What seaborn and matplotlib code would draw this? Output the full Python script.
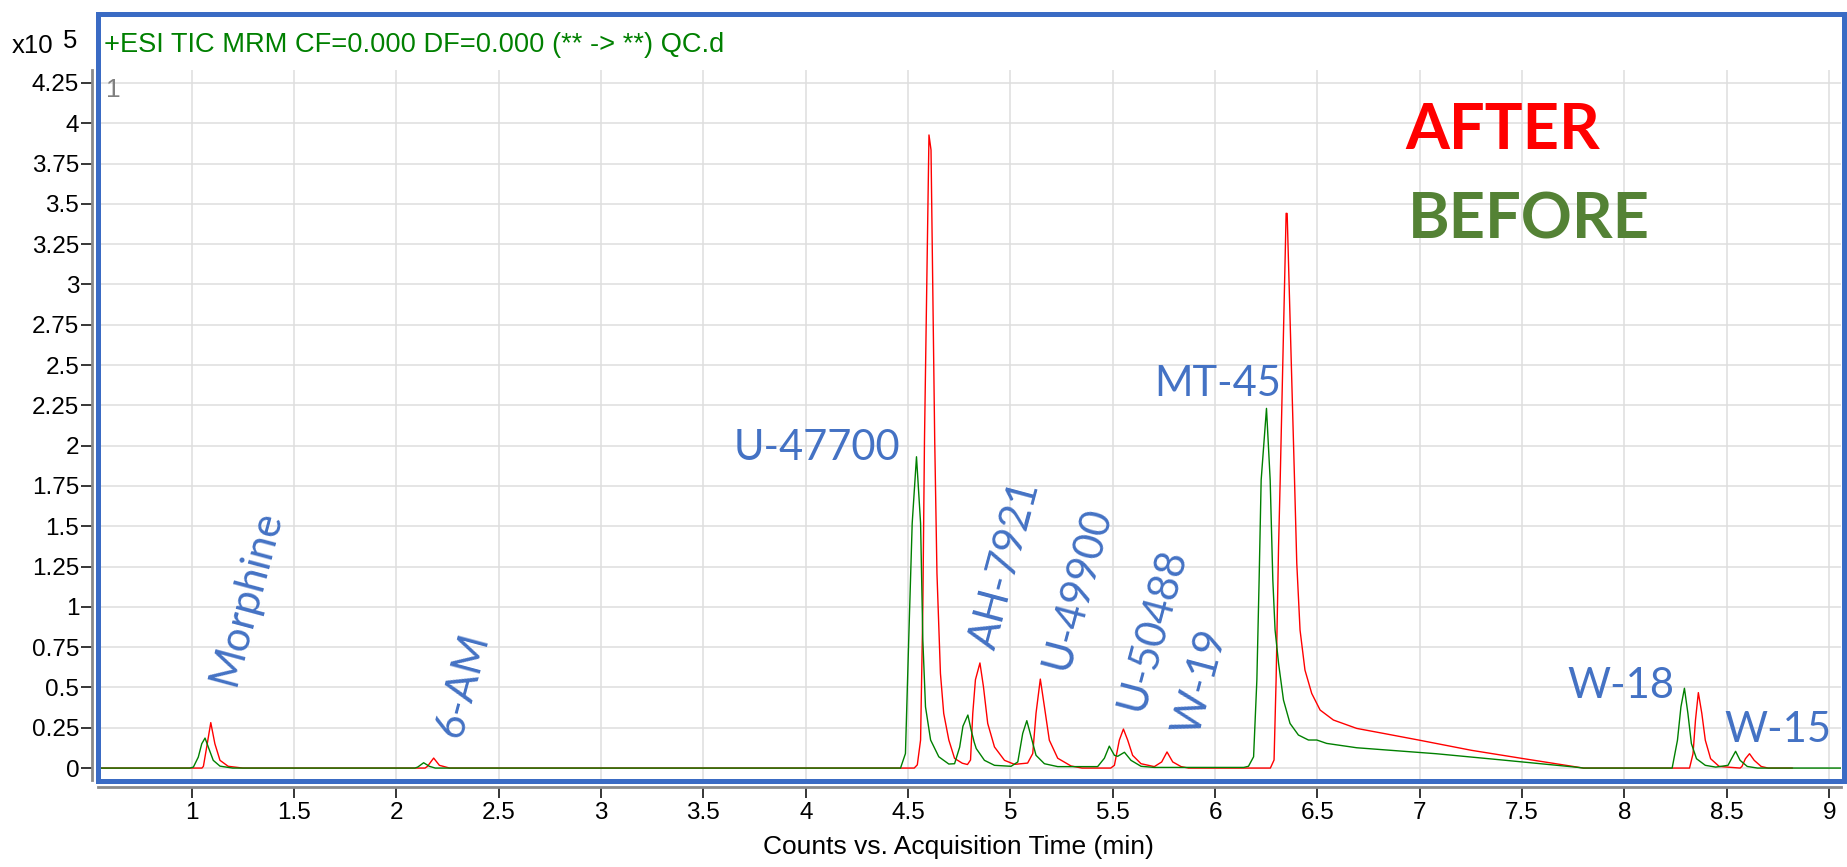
import matplotlib
matplotlib.use("Agg")
import matplotlib.pyplot as plt
from matplotlib.patches import Rectangle
import seaborn as sns

# ---------------- data (counts x10^5 vs. acquisition time, min) ----------------
after_time = [0.54, 1.05, 1.057, 1.073, 1.093, 1.113, 1.138, 1.178, 1.25,
              2.14, 2.152, 2.182, 2.21, 2.26,
              4.53, 4.545, 4.561, 4.572, 4.580, 4.602, 4.612, 4.630, 4.641, 4.658,
              4.674, 4.699, 4.727, 4.765, 4.790, 4.805, 4.816, 4.829, 4.851, 4.868,
              4.889, 4.922, 4.971, 5.020, 5.084, 5.109, 5.125, 5.146, 5.166, 5.190,
              5.231, 5.296, 5.350, 5.490, 5.508, 5.532, 5.552, 5.573, 5.597, 5.638,
              5.703, 5.739, 5.765, 5.793, 5.834, 5.870,
              6.270, 6.288, 6.298, 6.310, 6.318, 6.347, 6.352, 6.388, 6.399, 6.415,
              6.439, 6.472, 6.513, 6.578, 6.692, 6.827, 6.998, 7.253, 7.509, 7.800,
              8.318, 8.335, 8.347, 8.361, 8.378, 8.395, 8.421, 8.463, 8.565,
              8.574, 8.591, 8.611, 8.634, 8.668, 8.702, 8.821]
after_counts = [0, 0, 0.011, 0.130, 0.282, 0.151, 0.048, 0.011, 0,
                0, 0.011, 0.062, 0.017, 0,
                0, 0.020, 0.174, 1.000, 2.030, 3.927, 3.834, 2.035, 1.208, 0.587,
                0.339, 0.174, 0.060, 0.030, 0.022, 0.050, 0.340, 0.548, 0.652, 0.506,
                0.277, 0.131, 0.048, 0.023, 0.031, 0.090, 0.340, 0.552, 0.381, 0.173,
                0.061, 0.013, 0, 0, 0.017, 0.173, 0.242, 0.173, 0.079, 0.027,
                0.009, 0.038, 0.100, 0.038, 0.009, 0,
                0, 0.050, 0.546, 1.373, 1.787, 3.441, 3.440, 1.787, 1.270, 0.856,
                0.608, 0.463, 0.360, 0.298, 0.246, 0.214, 0.173, 0.110, 0.058, 0,
                0, 0.089, 0.297, 0.468, 0.339, 0.173, 0.058, 0.010, 0,
                0.010, 0.058, 0.089, 0.048, 0.010, 0, 0]

before_time = [0.54, 0.99, 1.008, 1.032, 1.049, 1.065, 1.081, 1.105, 1.138, 1.20,
               2.09, 2.104, 2.133, 2.161, 2.19,
               4.463, 4.487, 4.503, 4.520, 4.541, 4.561, 4.572, 4.585, 4.610, 4.650,
               4.699, 4.727, 4.752, 4.768, 4.792, 4.808, 4.823, 4.833, 4.873, 4.922,
               5.003, 5.036, 5.060, 5.080, 5.101, 5.125, 5.166, 5.231, 5.426, 5.459,
               5.483, 5.508, 5.524, 5.557, 5.589, 5.638, 5.703,
               6.140, 6.163, 6.188, 6.204, 6.215, 6.225, 6.251, 6.269, 6.282, 6.293,
               6.310, 6.334, 6.366, 6.407, 6.456, 6.497, 6.545, 6.692, 7.080, 7.420,
               7.760, 7.800,
               8.233, 8.259, 8.276, 8.293, 8.310, 8.327, 8.352, 8.395, 8.446, 8.506,
               8.523, 8.543, 8.565, 8.600, 8.650, 9.058]
before_counts = [0, 0, 0.006, 0.068, 0.151, 0.186, 0.130, 0.048, 0.012, 0,
                 0, 0.006, 0.033, 0.011, 0,
                 0, 0.090, 0.794, 1.518, 1.931, 1.518, 0.794, 0.380, 0.174, 0.070,
                 0.025, 0.027, 0.130, 0.260, 0.329, 0.236, 0.160, 0.121, 0.048, 0.017,
                 0.011, 0.038, 0.215, 0.294, 0.194, 0.079, 0.027, 0.009, 0.009, 0.061,
                 0.136, 0.079, 0.073, 0.098, 0.048, 0.011, 0.004,
                 0.004, 0.011, 0.070, 0.546, 1.166, 1.787, 2.231, 1.787, 1.166, 0.856,
                 0.650, 0.422, 0.277, 0.205, 0.174, 0.174, 0.153, 0.126, 0.089, 0.048,
                 0.006, 0,
                 0, 0.173, 0.380, 0.495, 0.339, 0.152, 0.058, 0.017, 0.006, 0.017,
                 0.058, 0.104, 0.048, 0.010, 0, 0]

compound_names = ["Morphine", "6-AM", "U-47700", "AH-7921", "U-49900",
                  "U-50488", "W-19", "MT-45", "W-18", "W-15"]
compound_x = [1.265, 2.325, 4.056, 4.976, 5.327, 5.693, 5.927, 6.011, 7.982, 8.748]
compound_y = [1.06, 0.515, 1.985, 1.26, 1.117, 0.862, 0.533, 2.38, 0.511, 0.235]
compound_rot = [75, 75, 0, 75, 75, 75, 75, 0, 0, 0]

x_ticks = [1, 1.5, 2, 2.5, 3, 3.5, 4, 4.5, 5, 5.5, 6, 6.5, 7, 7.5, 8, 8.5, 9]
y_ticks = [0, 0.25, 0.5, 0.75, 1, 1.25, 1.5, 1.75, 2, 2.25, 2.5, 2.75, 3, 3.25,
           3.5, 3.75, 4, 4.25]
y_tick_labels = ["0", "0.25", "0.5", "0.75", "1", "1.25", "1.5", "1.75", "2",
                 "2.25", "2.5", "2.75", "3", "3.25", "3.5", "3.75", "4", "4.25"]

# ---------------- style ----------------
sns.set_theme(style="white")
plt.rcParams["font.family"] = ["Liberation Sans", "DejaVu Sans"]

W, H = 1847, 867
fig = plt.figure(figsize=(W / 100, H / 100), dpi=100)
fig.patch.set_facecolor("white")

L, R, T, B = 98, 1841, 70, 780
ax = fig.add_axes([L / W, (H - B) / H, (R - L) / W, (B - T) / H])
ax.set_facecolor("white")

sns.lineplot(x=after_time, y=after_counts, ax=ax, color="#FF0000", lw=1.0,
             estimator=None, sort=False, zorder=3)
sns.lineplot(x=before_time, y=before_counts, ax=ax, color="#008000", lw=1.0,
             estimator=None, sort=False, zorder=4)

ax.set_xlim(0.542, 9.058)
ax.set_ylim(-0.074, 4.33)
ax.set_xticks(x_ticks)
ax.set_xticklabels([f"{v:g}" for v in x_ticks])
ax.set_yticks(y_ticks)
ax.set_yticklabels(y_tick_labels)

ax.grid(True, color="#DEDEDE", lw=1.1, zorder=0)
ax.set_axisbelow(True)

for s in ["top", "right"]:
    ax.spines[s].set_visible(False)
ax.spines["left"].set_position(("outward", 4))
ax.spines["bottom"].set_position(("outward", 5))
for s in ["left", "bottom"]:
    ax.spines[s].set_color("#8A8A8A")
    ax.spines[s].set_linewidth(2.0)

ax.tick_params(axis="both", which="major", direction="out", length=8, width=1.1,
               color="black", labelsize=17.5, labelcolor="black", pad=3,
               left=True, bottom=True)
ax.tick_params(axis="y", pad=1.5)

ax.set_xlabel("Counts vs. Acquisition Time (min)", fontsize=19, color="black",
              labelpad=8)
ax.xaxis.label.set_x(0.4934)
ax.set_ylabel("")

# compound labels
for name, xv, yv, rot in zip(compound_names, compound_x, compound_y, compound_rot):
    ax.text(xv, yv, name, rotation=rot, rotation_mode="anchor", ha="center",
            va="center", fontsize=30, color="#4472C4", family="Lato", zorder=6)

ax.text(6.929, 3.95, "AFTER", ha="left", va="center", fontsize=45.5,
        fontweight="bold", color="#FF0000", family="Lato", zorder=6)
ax.text(6.943, 3.395, "BEFORE", ha="left", va="center", fontsize=45.5,
        fontweight="bold", color="#548235", family="Lato", zorder=6)

# frame and header texts
frame = Rectangle((98 / W, (H - 780.5) / H), (1844 - 98) / W, (780.5 - 14) / H,
                  transform=fig.transFigure, fill=False, ec="#3A6BC4", lw=3.6,
                  zorder=10)
fig.add_artist(frame)

fig.text(104 / W, (H - 45) / H, "+ESI TIC MRM CF=0.000 DF=0.000 (** -> **) QC.d",
         ha="left", va="center", fontsize=19.6, color="#008000")
fig.text(12 / W, (H - 46) / H, "x10", ha="left", va="center", fontsize=18.5,
         color="black")
fig.text(63 / W, (H - 41) / H, "5", ha="left", va="center", fontsize=18.5,
         color="black")
fig.text(106 / W, (H - 90) / H, "1", ha="left", va="center", fontsize=19,
         color="#808080")

fig.savefig("out.png", dpi=100)
